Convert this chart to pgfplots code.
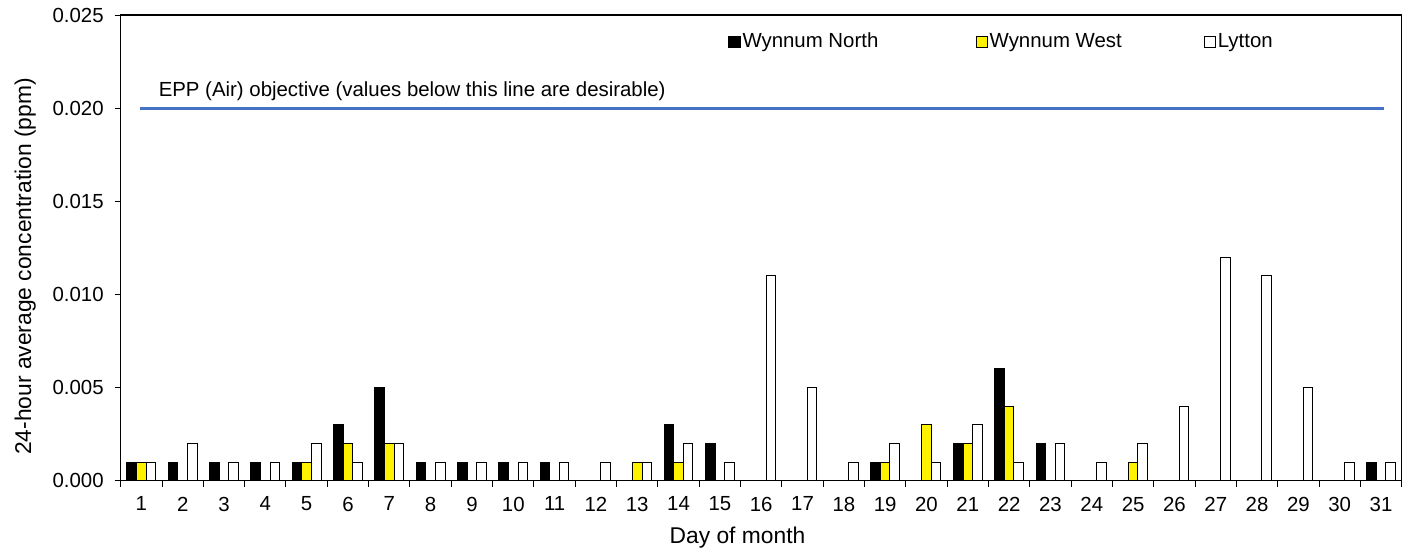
\documentclass[border=0pt]{standalone}
\usepackage{fontspec}
\setmainfont{Liberation Sans}
\usepackage{pgfplots}
\pgfplotsset{compat=1.18}
\usetikzlibrary{calc}
\definecolor{eppblue}{RGB}{68,114,196}

\begin{document}
\begin{tikzpicture}
\begin{axis}[
    scale only axis,
    width=640.5pt,
    height=232.85pt,
    ybar=0pt,
    bar width=4.8pt,
    xmin=0.5, xmax=31.5,
    ymin=0, ymax=0.025,
    xtick={1,...,31},
    minor xtick={0.5,1.5,...,31.5},
    major x tick style={draw=none},
    minor tick length=3pt,
    major tick length=3pt,
    tick align=outside,
    xtick pos=bottom,
    ytick pos=left,
    ytick={0,0.005,...,0.025},
    scaled y ticks=false,
    yticklabel style={/pgf/number format/.cd, fixed, fixed zerofill, precision=3, /tikz/.cd, xshift=-2pt},
    xticklabel style={yshift=-1.5pt},
    /pgf/number format/assume math mode=true,
    tick label style={font=\fontsize{10.2}{12}\selectfont},
    tick style={black, line width=0.5pt},
    axis line style={black, line width=0.6pt},
    xlabel={Day of month},
    ylabel={24-hour average concentration (ppm)},
    every axis x label/.style={at={(axis description cs:0.4815,-0.122)}, anchor=center,
        font=\fontsize{11.4}{13}\selectfont},
    every axis y label/.style={at={(axis description cs:-0.0745,0.46)}, anchor=center, rotate=90,
        font=\fontsize{11.4}{13}\selectfont},
    legend columns=3,
    legend style={draw=none, fill=none, at={(rel axis cs:0.474,0.942)}, anchor=west,
        inner sep=0pt, font=\fontsize{10.2}{12}\selectfont,
        nodes={inner sep=1pt},
        /tikz/every even column/.append style={column sep=0pt}},
    legend image code/.code={\draw[#1, line width=0.5pt] (0pt,-2.8pt) rectangle (5.6pt,2.8pt);},
]
% values in ppm; zero days left out
\addplot[draw=black, fill=black, line width=0.5pt] coordinates {
    (1,0.001) (2,0.001) (3,0.001) (4,0.001) (5,0.001) (6,0.003) (7,0.005)
    (8,0.001) (9,0.001) (10,0.001) (11,0.001) (14,0.003) (15,0.002)
    (19,0.001) (21,0.002) (22,0.006) (23,0.002) (31,0.001)
};
\addlegendentry{\makebox[115.5pt][l]{Wynnum North}}

\addplot[draw=black, fill=yellow, line width=0.5pt] coordinates {
    (1,0.001) (5,0.001) (6,0.002) (7,0.002) (13,0.001) (14,0.001)
    (19,0.001) (20,0.003) (21,0.002) (22,0.004) (25,0.001)
};
\addlegendentry{\makebox[106pt][l]{Wynnum West}}

\addplot[draw=black, fill=white, line width=0.5pt] coordinates {
    (1,0.001) (2,0.002) (3,0.001) (4,0.001) (5,0.002) (6,0.001) (7,0.002)
    (8,0.001) (9,0.001) (10,0.001) (11,0.001) (12,0.001) (13,0.001) (14,0.002)
    (15,0.001) (16,0.011) (17,0.005) (18,0.001) (19,0.002) (20,0.001) (21,0.003)
    (22,0.001) (23,0.002) (24,0.001) (25,0.002) (26,0.004) (27,0.012) (28,0.011)
    (29,0.005) (30,0.001) (31,0.001)
};
\addlegendentry{Lytton}

% EPP objective line
\addplot[sharp plot, eppblue, line width=1.6pt, forget plot, bar shift=0pt] coordinates {(0.97,0.02) (31.06,0.02)};
\node[anchor=west, font=\fontsize{10.2}{12}\selectfont] at (axis cs:1.25,0.0209)
    {EPP (Air) objective (values below this line are desirable)};

\coordinate (sw) at (rel axis cs:0,0);
\coordinate (ne) at (rel axis cs:1,1);
\end{axis}
\pgfresetboundingbox
\path[use as bounding box] ($(sw)+(-60.35pt,-36.15pt)$) rectangle ($(ne)+(4.15pt,7.5pt)$);
\end{tikzpicture}
\end{document}
